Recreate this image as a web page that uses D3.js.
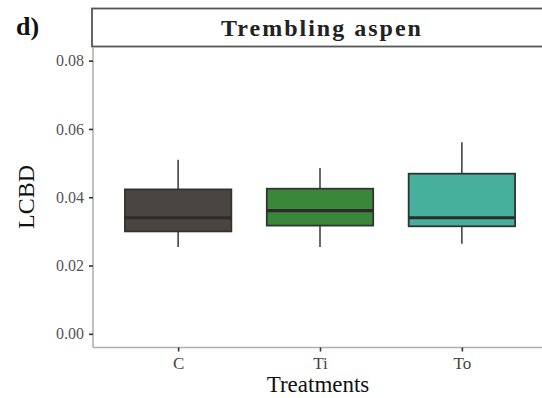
<!DOCTYPE html>
<html>
<head>
<meta charset="utf-8">
<script src="https://cdn.jsdelivr.net/npm/d3@7"></script>
<style>
  html, body { margin: 0; padding: 0; background: #fff; }
  svg { display: block; }
</style>
</head>
<body>
<svg id="chart" width="542" height="398"></svg>
<script>
// Treatment groups and their box-plot summaries (LCBD)
const treatments = ["C", "Ti", "To"];
const whiskerLow = [0.0254, 0.0254, 0.0264];
const q1 = [0.0300, 0.0317, 0.0315];
const median = [0.0340, 0.0361, 0.0340];
const q3 = [0.0423, 0.0425, 0.0469];
const whiskerHigh = [0.0510, 0.0486, 0.0561];
const fills = ["#4a4541", "#3a873a", "#47b09c"];
const yTicks = [0.00, 0.02, 0.04, 0.06, 0.08];

const svg = d3.select("#chart");
const panel = { left: 93, right: 547, top: 47, bottom: 347.5 };

// Discrete x positions with 0.6-unit padding on each side
const x = d3.scaleLinear()
  .domain([0.4, treatments.length + 0.6])
  .range([panel.left, panel.right]);
const y = d3.scaleLinear()
  .domain([-0.004, 0.084])
  .range([panel.bottom, panel.top]);

const step = x(2) - x(1);
const boxW = step * 0.75;

// Facet strip (runs off the right edge)
svg.append("rect")
  .attr("x", panel.left - 1).attr("y", 8.5)
  .attr("width", panel.right - panel.left + 20).attr("height", 38)
  .attr("fill", "#fff").attr("stroke", "#555").attr("stroke-width", 1.8);
svg.append("text")
  .attr("x", (panel.left + panel.right) / 2 + 2).attr("y", 36)
  .attr("text-anchor", "middle")
  .attr("font-family", "Liberation Serif, serif").attr("font-weight", "bold")
  .attr("font-size", 24).attr("letter-spacing", 2).attr("fill", "#222")
  .text("Trembling aspen");

// Panel tag
svg.append("text")
  .attr("x", 16).attr("y", 35)
  .attr("font-family", "Liberation Serif, serif").attr("font-weight", "bold")
  .attr("font-size", 26).attr("fill", "#111")
  .text("d)");

// Axes
const yAxis = d3.axisLeft(y).tickValues(yTicks).tickFormat(d3.format(".2f")).tickSize(4).tickPadding(5);
const xAxis = d3.axisBottom(x).tickValues(treatments.map((_, i) => i + 1))
  .tickFormat((d) => treatments[d - 1]).tickSize(4).tickPadding(5);

const gy = svg.append("g").attr("transform", `translate(${panel.left},0)`).call(yAxis);
const gx = svg.append("g").attr("transform", `translate(0,${panel.bottom})`).call(xAxis);

[gy, gx].forEach((g) => {
  g.select(".domain").attr("stroke", "#b0b0b0").attr("stroke-width", 1.6);
  g.selectAll(".tick line").attr("stroke", "#333").attr("stroke-width", 1.6);
  g.selectAll(".tick text").attr("font-family", "Liberation Serif, serif").attr("fill", "#555");
});
gy.select(".domain").attr("d", `M0,${panel.top}V${panel.bottom}`);
gx.select(".domain").attr("d", `M${panel.left},0H${panel.right}`);
gy.selectAll(".tick text").attr("font-size", 16);
gx.selectAll(".tick text").attr("font-size", 17).attr("fill", "#444");

// Axis titles
svg.append("text")
  .attr("transform", `translate(34,197) rotate(-90)`)
  .attr("text-anchor", "middle")
  .attr("font-family", "Liberation Serif, serif").attr("font-size", 24).attr("fill", "#111")
  .text("LCBD");
svg.append("text")
  .attr("x", 318).attr("y", 392)
  .attr("text-anchor", "middle")
  .attr("font-family", "Liberation Serif, serif").attr("font-size", 23).attr("fill", "#111")
  .text("Treatments");

// Boxes
const groups = svg.append("g").selectAll("g")
  .data(treatments.map((t, i) => ({ t, i })))
  .join("g");

groups.append("line")
  .attr("x1", (d) => x(d.i + 1)).attr("x2", (d) => x(d.i + 1))
  .attr("y1", (d) => y(whiskerHigh[d.i])).attr("y2", (d) => y(q3[d.i]))
  .attr("stroke", "#444").attr("stroke-width", 1.6);
groups.append("line")
  .attr("x1", (d) => x(d.i + 1)).attr("x2", (d) => x(d.i + 1))
  .attr("y1", (d) => y(q1[d.i])).attr("y2", (d) => y(whiskerLow[d.i]))
  .attr("stroke", "#444").attr("stroke-width", 1.6);
groups.append("rect")
  .attr("x", (d) => x(d.i + 1) - boxW / 2).attr("width", boxW)
  .attr("y", (d) => y(q3[d.i])).attr("height", (d) => y(q1[d.i]) - y(q3[d.i]))
  .attr("fill", (d) => fills[d.i]).attr("stroke", "#333").attr("stroke-width", 1.8);
groups.append("line")
  .attr("x1", (d) => x(d.i + 1) - boxW / 2).attr("x2", (d) => x(d.i + 1) + boxW / 2)
  .attr("y1", (d) => y(median[d.i])).attr("y2", (d) => y(median[d.i]))
  .attr("stroke", "#2e2b2a").attr("stroke-width", 3.2);
</script>
</body>
</html>
